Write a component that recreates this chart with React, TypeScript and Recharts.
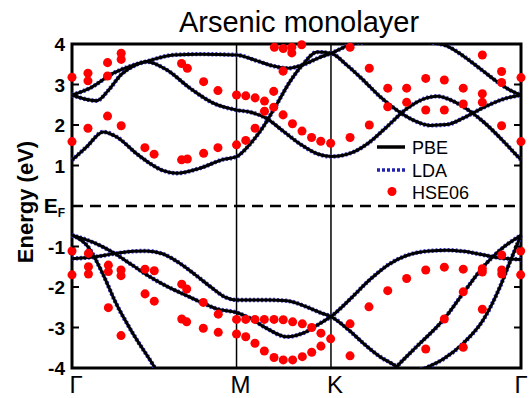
import React from 'react';
import {
  ComposedChart,
  Line,
  Scatter,
  XAxis,
  YAxis,
  ReferenceLine,
  ReferenceArea,
} from 'recharts';

const W = 529;
const H = 398;
const PLOT_L = 72;
const PLOT_R = 521;
const FONT = '"Liberation Sans", Arial, Helvetica, sans-serif';

// k-path Γ - M - K - Γ, distance along the path with |ΓM| = 1
const K_G = 0;
const K_M = 1;
const K_K = 1.574;
const K_END = 2.729;
const xTicks = [K_G, K_M, K_K, K_END];
const xLabels = ['Γ', 'M', 'K', 'Γ'];
const yTicks = [-4, -3, -2, -1, 0, 1, 2, 3, 4];

// PBE bands, [k, E (eV)]  (LDA coincides with PBE at this scale)
const cb1 = [
  [0, 1.13], [0.089, 1.46], [0.19, 1.83], [0.27, 1.71], [0.39, 1.3], [0.474, 1.05],
  [0.55, 0.88], [0.636, 0.81], [0.775, 0.93], [0.92, 1.15], [1.0, 1.22],
  [1.08, 1.52], [1.16, 1.94], [1.24, 2.48], [1.32, 3.04], [1.4, 3.48], [1.49, 3.8],
  [1.574, 3.77], [1.67, 3.48], [1.77, 3.11], [1.872, 2.7], [1.973, 2.37], [2.074, 2.12],
  [2.176, 1.99], [2.277, 2.01], [2.378, 2.17], [2.5, 2.43], [2.622, 2.64], [2.729, 2.74],
];
const cb2 = [
  [0, 2.74], [0.07, 2.65], [0.15, 2.6], [0.22, 2.85], [0.3, 3.25], [0.373, 3.45],
  [0.454, 3.56], [0.576, 3.36], [0.717, 2.91], [0.859, 2.54], [1.0, 2.37],
  [1.08, 2.32], [1.18, 2.17], [1.28, 1.86], [1.39, 1.52], [1.49, 1.29], [1.574, 1.22],
  [1.709, 1.33], [1.8, 1.55], [1.912, 1.95], [2.034, 2.4], [2.156, 2.67], [2.22, 2.71],
  [2.3, 2.62], [2.378, 2.45], [2.5, 2.08], [2.622, 1.6], [2.703, 1.25], [2.729, 1.14],
];
const cb3 = [
  [0, 2.74], [0.109, 2.91], [0.251, 3.28], [0.373, 3.48], [0.454, 3.57], [0.616, 3.73],
  [0.778, 3.75], [1.0, 3.73], [1.12, 3.59], [1.22, 3.46], [1.31, 3.4], [1.4, 3.48],
  [1.5, 3.66], [1.574, 3.77], [1.69, 3.98], [1.8, 4.06], [1.95, 4.1], [2.1, 4.08],
  [2.2, 4.03], [2.28, 3.95], [2.38, 3.7], [2.49, 3.36], [2.59, 3.05], [2.662, 2.86],
  [2.729, 2.74],
];
const vb1 = [
  [0, -1.3], [0.13, -1.26], [0.27, -1.17], [0.37, -1.12], [0.45, -1.11], [0.55, -1.18],
  [0.65, -1.4], [0.75, -1.7], [0.85, -2.02], [0.93, -2.25], [1.0, -2.32],
  [1.1, -2.32], [1.2, -2.32], [1.305, -2.34], [1.426, -2.49], [1.507, -2.63], [1.574, -2.73],
  [1.709, -3.16], [1.771, -3.39], [1.872, -3.72], [1.973, -3.97], [2.06, -4.3],
];
const vb2 = [
  [0, -0.72], [0.13, -0.9], [0.25, -1.15], [0.37, -1.47], [0.47, -1.74], [0.58, -1.99],
  [0.68, -2.18], [0.78, -2.37], [0.88, -2.54], [1.0, -2.63],
  [1.082, -2.77], [1.183, -3.02], [1.305, -3.23], [1.426, -3.1], [1.507, -2.9], [1.574, -2.73],
  [1.69, -2.3], [1.81, -1.82], [1.93, -1.43], [2.05, -1.2], [2.17, -1.11], [2.28, -1.09],
  [2.38, -1.12], [2.48, -1.19], [2.58, -1.27], [2.729, -1.32],
];
const vb3 = [
  [0, -0.72], [0.1, -1.02], [0.19, -1.7], [0.265, -2.38], [0.375, -3.18], [0.5, -3.97], [0.54, -4.25],
];
const vb4 = [
  [1.9, -4.3], [1.973, -3.97], [2.095, -3.47], [2.257, -2.81], [2.378, -2.15], [2.5, -1.5],
  [2.601, -1.09], [2.729, -0.72],
];
const vb5 = [
  [2.0, -4.18], [2.135, -4.02], [2.257, -3.78], [2.378, -3.39], [2.5, -2.81], [2.601, -2.0],
  [2.662, -1.38], [2.729, -0.72],
];

// HSE06 points, [k, E (eV)]
const hseConduction = [
  [0, 3.18], [0, 1.59], [0.097, 3.28], [0.097, 3.09], [0.097, 1.92],
  [0.216, 3.54], [0.216, 3.21], [0.216, 2.22], [0.299, 3.77], [0.299, 3.62], [0.299, 1.98],
  [0.443, 1.44], [0.499, 1.28], [0.666, 3.52], [0.701, 3.4], [0.666, 1.14], [0.701, 1.16],
  [0.8, 3.07], [0.8, 1.3], [0.887, 2.85], [0.887, 1.44], [1.0, 2.74], [1.0, 1.51],
  [1.056, 2.72], [1.056, 1.62], [1.113, 2.67], [1.113, 1.92], [1.17, 2.59], [1.17, 2.34],
  [1.226, 2.83], [1.226, 2.44], [1.283, 3.33], [1.283, 2.25], [1.23, 3.92], [1.284, 3.89],
  [1.336, 3.92], [1.336, 3.78], [1.396, 3.98], [1.34, 2.03], [1.398, 1.85], [1.456, 1.69],
  [1.512, 1.6], [1.572, 1.55],
  [1.69, 3.92], [1.69, 1.69], [1.807, 3.4], [1.807, 2.0], [1.919, 2.91], [1.919, 2.45],
  [2.034, 2.91], [2.034, 2.56], [2.15, 3.15], [2.15, 2.37], [2.263, 3.11], [2.263, 2.37],
  [2.378, 2.91], [2.378, 2.52], [2.494, 3.73], [2.494, 2.77], [2.494, 2.56],
  [2.611, 3.32], [2.611, 3.05], [2.611, 1.98], [2.729, 3.17], [2.729, 1.59],
];
const hseValence = [
  [0, -1.11], [0, -1.7], [0.1, -1.17], [0.1, -1.5], [0.1, -1.68],
  [0.221, -1.46], [0.221, -1.62], [0.221, -2.51], [0.298, -1.58], [0.298, -1.72], [0.298, -3.2],
  [0.444, -1.56], [0.444, -2.17], [0.5, -1.6], [0.5, -2.35],
  [0.667, -1.93], [0.697, -2.05], [0.667, -2.79], [0.697, -2.86],
  [0.798, -2.38], [0.798, -3.02], [0.889, -2.67], [0.889, -3.12], [1.0, -2.8], [1.0, -3.16],
  [1.056, -2.8], [1.056, -3.23], [1.112, -2.8], [1.112, -3.39], [1.169, -2.8], [1.169, -3.58],
  [1.228, -2.8], [1.228, -3.74], [1.284, -2.81], [1.284, -3.8], [1.341, -2.86], [1.341, -3.8],
  [1.4, -2.91], [1.4, -3.72], [1.457, -3.0], [1.457, -3.61], [1.513, -3.14], [1.513, -3.46],
  [1.572, -3.28],
  [1.69, -2.91], [1.69, -3.7], [1.805, -2.49], [1.919, -2.09], [2.034, -1.79],
  [2.15, -1.58], [2.15, -3.53], [2.263, -1.51], [2.263, -2.79],
  [2.378, -1.56], [2.378, -2.12], [2.378, -3.49], [2.494, -1.55], [2.494, -1.63], [2.494, -2.55],
  [2.612, -1.21], [2.612, -1.58], [2.612, -1.68], [2.727, -1.11], [2.727, -1.7],
];

const toPts = (arr: number[][]) => arr.map(([k, e]) => ({ k, e }));
const bands = [cb1, cb2, cb3, vb1, vb2, vb3, vb4, vb5].map(toPts);
const hse = toPts([...hseConduction, ...hseValence]);

function XTick({ x, y, payload }: any) {
  const i = xTicks.indexOf(payload.value);
  // last Γ sits on the right frame edge, keep it inside the page
  const dx = i === xTicks.length - 1 ? 0 : 4;
  return (
    <text x={x + dx} y={y + 25} textAnchor="middle" fontFamily={FONT} fontSize={24} fill="#000">
      {xLabels[i]}
    </text>
  );
}

function YTick({ x, y, payload }: any) {
  const v = payload.value;
  const inner = v !== 0 && Math.abs(v) !== 4;
  return (
    <g>
      {inner && <line x1={PLOT_L} x2={PLOT_L + 7} y1={y} y2={y} stroke="#000" strokeWidth={2} />}
      {inner && <line x1={PLOT_R - 7} x2={PLOT_R} y1={y} y2={y} stroke="#000" strokeWidth={2} />}
      {v === 0 ? (
        <text x={x} y={y} dy={7} textAnchor="end" fontFamily={FONT} fontWeight="bold" fontSize={21} fill="#000">
          E<tspan fontSize={12} dy={4}>F</tspan>
        </text>
      ) : (
        <text x={x} y={y} dy={7} textAnchor="end" fontFamily={FONT} fontWeight="bold" fontSize={19} fill="#000">
          {v}
        </text>
      )}
    </g>
  );
}

export default function App() {
  return (
    <div style={{ position: 'absolute', left: 0, top: 0, width: W, height: H, background: '#fff' }}>
      <ComposedChart width={W} height={H} margin={{ top: 44, right: 8, bottom: 0, left: 12 }}>
        <XAxis
          type="number"
          dataKey="k"
          domain={[K_G, K_END]}
          ticks={xTicks}
          interval={0}
          tickSize={0}
          tickMargin={0}
          height={30}
          axisLine={false}
          tickLine={false}
          tick={XTick}
        />
        <YAxis
          yAxisId="band"
          type="number"
          dataKey="e"
          domain={[-4, 4]}
          allowDataOverflow
          ticks={yTicks}
          interval={0}
          width={60}
          tickSize={0}
          tickMargin={7}
          axisLine={false}
          tickLine={false}
          tick={YTick}
        />
        <YAxis yAxisId="dots" type="number" dataKey="e" domain={[-4, 4]} hide />

        <ReferenceLine yAxisId="band" y={0} stroke="#000" strokeWidth={2.5} strokeDasharray="11 7" />
        <ReferenceLine yAxisId="band" x={K_M} stroke="#000" strokeWidth={1.5} />
        <ReferenceLine yAxisId="band" x={K_K} stroke="#000" strokeWidth={1.5} />

        {/* LDA: blue dotted, under the PBE lines */}
        {bands.map((b, i) => (
          <Line
            key={`lda${i}`}
            yAxisId="band"
            data={b}
            dataKey="e"
            type="monotone"
            stroke="#3a3ad0"
            strokeWidth={4.4}
            strokeDasharray="2 2"
            dot={false}
            activeDot={false}
            isAnimationActive={false}
          />
        ))}
        {/* PBE: black solid */}
        {bands.map((b, i) => (
          <Line
            key={`pbe${i}`}
            yAxisId="band"
            data={b}
            dataKey="e"
            type="monotone"
            stroke="#000"
            strokeWidth={3}
            dot={false}
            activeDot={false}
            isAnimationActive={false}
          />
        ))}

        <ReferenceArea
          yAxisId="band"
          x1={K_G}
          x2={K_END}
          y1={-4}
          y2={4}
          fill="none"
          fillOpacity={0}
          stroke="#000"
          strokeWidth={3}
        />

        <Scatter yAxisId="dots" data={hse} dataKey="e" fill="#ff0000" isAnimationActive={false} />
      </ComposedChart>

      <svg width={W} height={H} style={{ position: 'absolute', left: 0, top: 0, pointerEvents: 'none' }}>
        <text x={299} y={32} textAnchor="middle" fontFamily={FONT} fontSize={29} fill="#000">
          Arsenic monolayer
        </text>
        <text
          transform="translate(33,202) rotate(-90)"
          textAnchor="middle"
          fontFamily={FONT}
          fontWeight="bold"
          fontSize={22}
          fill="#000"
        >
          Energy (eV)
        </text>
        {/* legend */}
        <line x1={377} x2={405} y1={147} y2={147} stroke="#000" strokeWidth={3.5} />
        <text x={412} y={154} fontFamily={FONT} fontSize={18} fill="#000">PBE</text>
        <line x1={377} x2={405} y1={170} y2={170} stroke="#2222b0" strokeWidth={3.5} strokeDasharray="3 2" />
        <text x={412} y={177} fontFamily={FONT} fontSize={18} fill="#000">LDA</text>
        <circle cx={392} cy={191.5} r={4.5} fill="#ff0000" />
        <text x={412} y={198.5} fontFamily={FONT} fontSize={18} fill="#000">HSE06</text>
      </svg>
    </div>
  );
}
